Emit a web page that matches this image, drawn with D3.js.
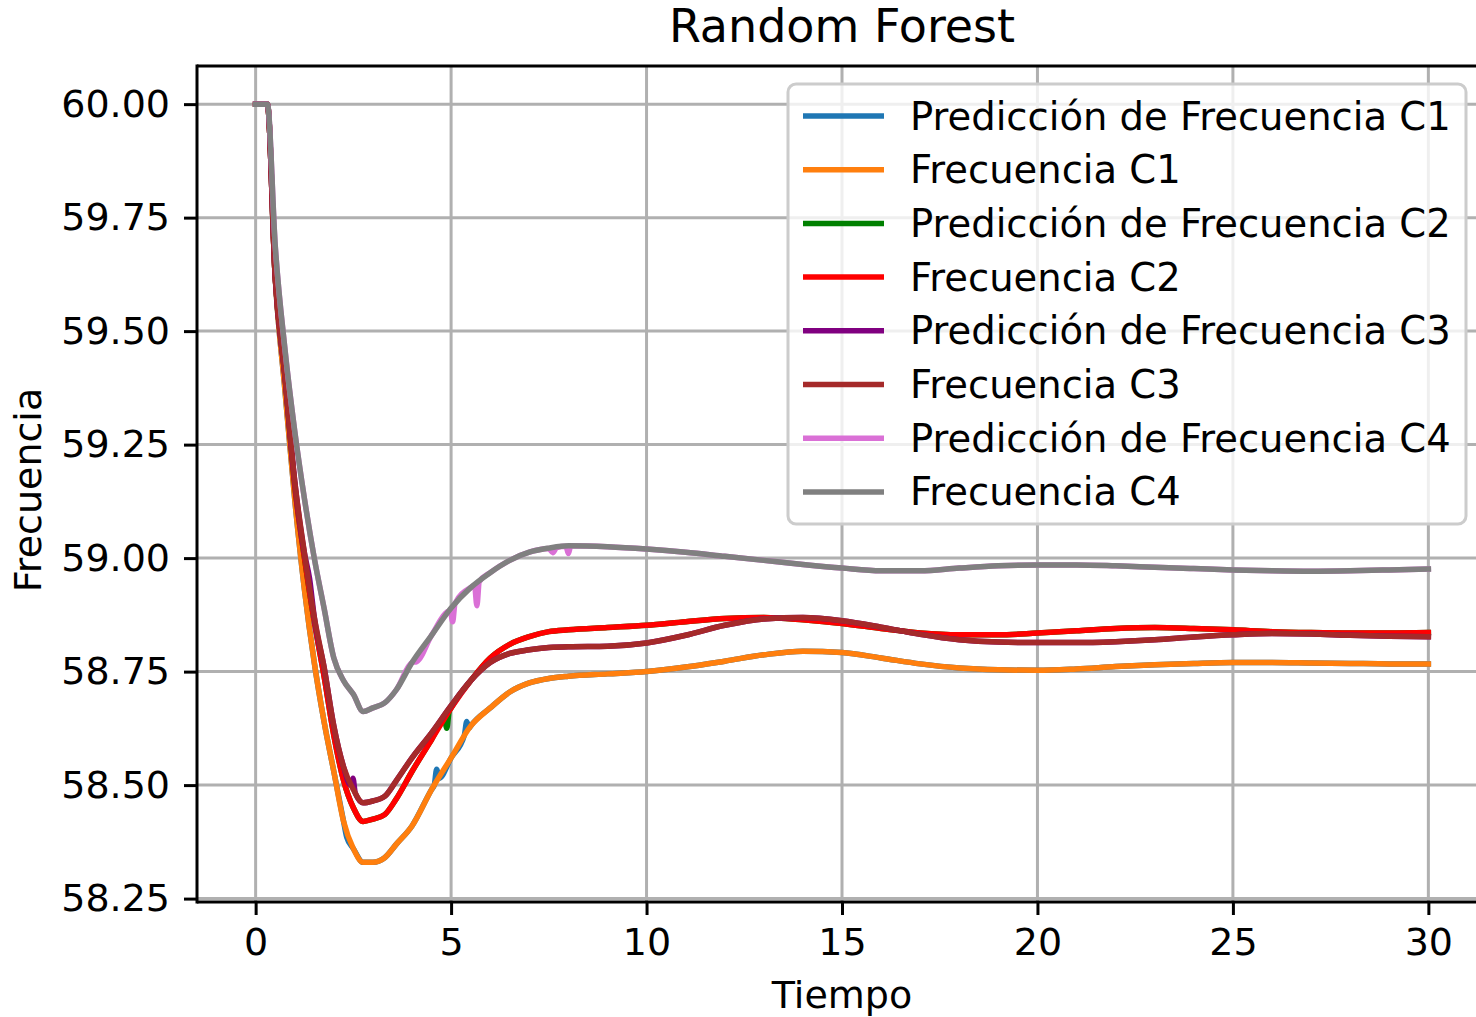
<!DOCTYPE html>
<html>
<head>
<meta charset="utf-8">
<script src="https://cdn.jsdelivr.net/npm/d3@7"></script>
<style>
  html, body { margin: 0; padding: 0; background: #fff; }
  svg { display: block; font-family: "DejaVu Sans", sans-serif; }
</style>
</head>
<body>
<svg id="chart" width="1476" height="1017"></svg>
<script>
// ---------------- DATA ----------------
const time = [0, 0.3, 0.5, 0.75, 1.0, 1.25, 1.5, 1.75, 2.0, 2.25, 2.5, 2.75, 3.0, 3.3, 3.6, 4.0, 4.5, 5.0, 5.5, 6.0, 6.5, 7.0, 7.5, 8, 9, 10, 11, 12, 13, 14, 15, 16, 17, 18, 19, 20, 21, 22, 23, 24, 25, 26, 27, 28, 29, 30];

const freqC1 = [60.0, 60.0, 59.62, 59.37, 59.13, 58.93, 58.77, 58.64, 58.53, 58.42, 58.36, 58.33, 58.33, 58.34, 58.37, 58.41, 58.49, 58.56, 58.63, 58.67, 58.705, 58.725, 58.735, 58.74, 58.745, 58.75, 58.76, 58.773, 58.787, 58.795, 58.792, 58.78, 58.767, 58.758, 58.754, 58.753, 58.756, 58.761, 58.765, 58.768, 58.77, 58.77, 58.769, 58.768, 58.767, 58.767];
const freqC2 = [60.0, 60.0, 59.62, 59.40, 59.16, 59.0, 58.86, 58.74, 58.61, 58.51, 58.45, 58.42, 58.425, 58.435, 58.47, 58.53, 58.60, 58.67, 58.73, 58.78, 58.81, 58.827, 58.838, 58.842, 58.847, 58.852, 58.86, 58.867, 58.869, 58.864, 58.856, 58.845, 58.835, 58.831, 58.831, 58.835, 58.84, 58.845, 58.847, 58.845, 58.842, 58.838, 58.836, 58.835, 58.835, 58.836];
const freqC3 = [60.0, 60.0, 59.62, 59.40, 59.17, 59.01, 58.87, 58.76, 58.63, 58.54, 58.49, 58.461, 58.465, 58.475, 58.51, 58.56, 58.615, 58.675, 58.73, 58.77, 58.79, 58.798, 58.803, 58.805, 58.806, 58.813, 58.83, 58.852, 58.866, 58.869, 58.862, 58.848, 58.832, 58.82, 58.815, 58.814, 58.814, 58.816, 58.82, 58.826, 58.831, 58.834, 58.833, 58.83, 58.828, 58.827];
const freqC4 = [60.0, 60.0, 59.69, 59.46, 59.28, 59.13, 59.0, 58.89, 58.78, 58.73, 58.70, 58.662, 58.67, 58.681, 58.71, 58.77, 58.83, 58.89, 58.935, 58.968, 58.995, 59.013, 59.022, 59.027, 59.025, 59.02, 59.013, 59.004, 58.995, 58.986, 58.978, 58.972, 58.972, 58.978, 58.983, 58.985, 58.985, 58.983, 58.98, 58.977, 58.974, 58.972, 58.971, 58.972, 58.974, 58.976];

// Predictions: [time, value] pairs (follow the measured curves, with the small visible deviations)
const predC1 = [[0,60.0],[0.3,60.0],[0.5,59.62],[0.75,59.37],[1.0,59.13],[1.25,58.93],[1.5,58.77],[1.75,58.64],[2.0,58.53],[2.25,58.42],[2.33,58.385],[2.5,58.36],[2.75,58.33],[3.0,58.33],[3.3,58.34],[3.6,58.37],[4.0,58.41],[4.5,58.49],[4.57,58.50],[4.63,58.535],[4.69,58.515],[5.0,58.56],[5.34,58.61],[5.4,58.64],[5.46,58.625],[5.5,58.63],[6.0,58.67],[6.5,58.705],[7.0,58.725],[7.5,58.735],[8,58.74],[9,58.745],[10,58.75],[11,58.76],[12,58.773],[13,58.787],[14,58.795],[15,58.792],[16,58.78],[17,58.767],[18,58.758],[19,58.754],[20,58.753],[21,58.756],[22,58.761],[23,58.765],[24,58.768],[25,58.77],[26,58.77],[27,58.769],[28,58.768],[29,58.767],[30,58.767]];
const predC2 = [[0,60.0],[0.3,60.0],[0.5,59.62],[0.75,59.40],[1.0,59.16],[1.25,59.0],[1.5,58.86],[1.75,58.74],[2.0,58.61],[2.25,58.51],[2.5,58.45],[2.75,58.42],[3.0,58.425],[3.3,58.435],[3.6,58.47],[4.0,58.53],[4.5,58.60],[4.83,58.645],[4.89,58.625],[4.95,58.662],[5.0,58.67],[5.5,58.73],[6.0,58.78],[6.5,58.81],[7.0,58.827],[7.5,58.838],[8,58.842],[9,58.847],[10,58.852],[11,58.86],[12,58.867],[13,58.869],[14,58.864],[15,58.856],[16,58.845],[17,58.835],[18,58.831],[19,58.831],[20,58.835],[21,58.84],[22,58.845],[23,58.847],[24,58.845],[25,58.842],[26,58.838],[27,58.836],[28,58.835],[29,58.835],[30,58.836]];
const predC3 = [[0,60.0],[0.3,60.0],[0.5,59.62],[0.75,59.40],[1.0,59.17],[1.25,59.01],[1.38,58.955],[1.5,58.87],[1.75,58.76],[2.0,58.63],[2.25,58.54],[2.43,58.50],[2.49,58.515],[2.55,58.482],[2.75,58.461],[3.0,58.465],[3.3,58.475],[3.6,58.51],[4.0,58.56],[4.5,58.615],[5.0,58.675],[5.5,58.73],[6.0,58.77],[6.5,58.79],[7.0,58.798],[7.5,58.803],[8,58.805],[9,58.806],[10,58.813],[11,58.83],[12,58.852],[13,58.866],[14,58.869],[15,58.862],[16,58.848],[17,58.832],[18,58.82],[19,58.815],[20,58.814],[21,58.814],[22,58.816],[23,58.82],[24,58.826],[25,58.831],[26,58.834],[27,58.833],[28,58.83],[29,58.828],[30,58.827]];
const predC4 = [[0,60.0],[0.3,60.0],[0.5,59.69],[0.75,59.46],[1.0,59.28],[1.25,59.13],[1.5,59.0],[1.75,58.89],[2.0,58.78],[2.25,58.73],[2.5,58.70],[2.75,58.662],[3.0,58.67],[3.3,58.681],[3.6,58.71],[4.0,58.77],[4.12,58.772],[4.5,58.83],[4.98,58.884],[5.04,58.86],[5.1,58.90],[5.5,58.935],[5.6,58.94],[5.66,58.895],[5.72,58.948],[6.0,58.968],[6.5,58.995],[7.0,59.013],[7.5,59.021],[7.6,59.012],[7.7,59.023],[7.94,59.026],[8.0,59.010],[8.06,59.027],[9,59.025],[10,59.02],[11,59.013],[12,59.004],[13,58.995],[14,58.986],[15,58.978],[16,58.972],[17,58.972],[18,58.978],[19,58.983],[20,58.985],[21,58.985],[22,58.983],[23,58.98],[24,58.977],[25,58.974],[26,58.972],[27,58.971],[28,58.972],[29,58.974],[30,58.976]];

const seriesNames = ["Predicción de Frecuencia C1", "Frecuencia C1", "Predicción de Frecuencia C2", "Frecuencia C2", "Predicción de Frecuencia C3", "Frecuencia C3", "Predicción de Frecuencia C4", "Frecuencia C4"];
const seriesColors = ["#1f77b4", "#ff7f0e", "#008000", "#ff0000", "#800080", "#a52a2a", "#da70d6", "#808080"];
const xTicks = [0, 5, 10, 15, 20, 25, 30];
const yTicks = [58.25, 58.50, 58.75, 59.00, 59.25, 59.50, 59.75, 60.00];
const titleText = "Random Forest";
const xLabel = "Tiempo";
const yLabel = "Frecuencia";

// ---------------- LAYOUT ----------------
const svg = d3.select("#chart");
const L = 197, R = 1487, T = 66, B = 902;
const x = d3.scaleLinear().domain([-1.5, 31.5]).range([L, R]);
const y = d3.scaleLinear().domain([58.2425, 60.084]).range([B, T]);

const toPairs = vals => time.map((t, i) => [t, vals[i]]);
const seriesData = [predC1, toPairs(freqC1), predC2, toPairs(freqC2), predC3, toPairs(freqC3), predC4, toPairs(freqC4)];

// grid
const grid = svg.append("g");
grid.selectAll("line.gx").data(xTicks).join("line")
  .attr("x1", d => x(d)).attr("x2", d => x(d)).attr("y1", T).attr("y2", B)
  .attr("stroke", "#b0b0b0").attr("stroke-width", 3);
grid.selectAll("line.gy").data(yTicks).join("line")
  .attr("x1", L).attr("x2", R).attr("y1", d => y(d)).attr("y2", d => y(d))
  .attr("stroke", "#b0b0b0").attr("stroke-width", 3);

// lines
svg.append("clipPath").attr("id", "clip").append("rect")
  .attr("x", L).attr("y", T).attr("width", R - L).attr("height", B - T);
const line = d3.line().x(d => x(d[0])).y(d => y(d[1])).curve(d3.curveMonotoneX);
svg.append("g").attr("clip-path", "url(#clip)")
  .selectAll("path").data(seriesData).join("path")
  .attr("d", d => line(d))
  .attr("fill", "none")
  .attr("stroke", (d, i) => seriesColors[i])
  .attr("stroke-width", 5.5)
  .attr("stroke-linejoin", "round")
  .attr("stroke-linecap", "square");

// axes
const fs = 38;
const xAxis = d3.axisBottom(x).tickValues(xTicks).tickFormat(d3.format("d")).tickSize(13).tickPadding(13);
const gx = svg.append("g").attr("transform", `translate(0,${B})`).call(xAxis);
const yAxis = d3.axisLeft(y).tickValues(yTicks).tickFormat(d3.format(".2f")).tickSize(13).tickPadding(14);
const gy = svg.append("g").attr("transform", `translate(${L},0)`).call(yAxis);
[gx, gy].forEach(g => {
  g.select(".domain").remove();
  g.selectAll(".tick line").attr("stroke", "#000").attr("stroke-width", 3);
  g.selectAll(".tick text").attr("font-size", fs).attr("fill", "#000")
    .attr("font-family", "DejaVu Sans, sans-serif");
});

// spines
svg.append("line").attr("x1", L).attr("x2", L).attr("y1", T - 1.5).attr("y2", B + 1.5).attr("stroke", "#000").attr("stroke-width", 3);
svg.append("line").attr("x1", L).attr("x2", R).attr("y1", B).attr("y2", B).attr("stroke", "#000").attr("stroke-width", 3);
svg.append("line").attr("x1", L).attr("x2", R).attr("y1", T).attr("y2", T).attr("stroke", "#000").attr("stroke-width", 3);
svg.append("line").attr("x1", R).attr("x2", R).attr("y1", T).attr("y2", B).attr("stroke", "#000").attr("stroke-width", 3);

// labels
svg.append("text").attr("x", (L + R) / 2).attr("y", 42).attr("text-anchor", "middle")
  .attr("font-size", 46).attr("fill", "#000").text(titleText);
svg.append("text").attr("x", (L + R) / 2).attr("y", 1008).attr("text-anchor", "middle")
  .attr("font-size", fs).attr("fill", "#000").text(xLabel);
svg.append("text").attr("transform", "translate(41,490) rotate(-90)").attr("text-anchor", "middle")
  .attr("font-size", fs).attr("fill", "#000").text(yLabel);

// legend
const lg = svg.append("g");
lg.append("rect").attr("x", 788).attr("y", 84).attr("width", 678).attr("height", 440)
  .attr("rx", 8).attr("ry", 8)
  .attr("fill", "#fff").attr("fill-opacity", 0.8)
  .attr("stroke", "#cccccc").attr("stroke-width", 3);
const rowY = i => 116 + i * 53.7;
const items = lg.selectAll("g.item").data(seriesNames).join("g").attr("class", "item");
items.append("line")
  .attr("x1", 803).attr("x2", 884)
  .attr("y1", (d, i) => rowY(i)).attr("y2", (d, i) => rowY(i))
  .attr("stroke", (d, i) => seriesColors[i]).attr("stroke-width", 5.5);
items.append("text")
  .attr("x", 910).attr("y", (d, i) => rowY(i) + 13.5)
  .attr("font-size", 38.5).attr("fill", "#000").text(d => d);
</script>
</body>
</html>
